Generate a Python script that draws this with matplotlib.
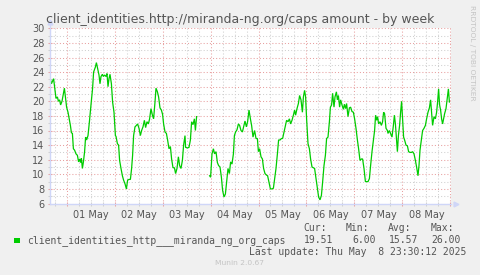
import numpy as np
import matplotlib
matplotlib.use("Agg")
import matplotlib.pyplot as plt
import matplotlib.dates as mdates
from matplotlib.patches import Rectangle
import datetime as dt

# ---------------- data ----------------
start_time = dt.datetime(2025, 4, 30, 15, 45)   # left edge of the graph
span_hours = 200.5

# hours since start_time
hours = [
    0.3, 0.7, 1.3, 1.8, 2.3, 3.0, 3.7, 4.2, 4.8, 5.3, 6.0, 6.7, 7.2, 7.7, 8.3, 9.0, 9.7, 10.2,
    10.7, 11.2, 11.7, 12.3, 13.0, 13.7, 14.3, 14.8, 15.3, 15.7, 16.2, 16.7, 17.3, 17.8, 18.3,
    19.0, 19.7, 20.3, 20.8, 21.3, 21.8, 22.7, 23.2, 23.8, 24.5, 25.0, 25.5, 26.2, 26.7, 27.3,
    28.0, 28.5, 29.0, 29.5, 30.0, 30.7, 31.3, 32.0, 32.7,
    33.0, 33.7, 34.3, 34.8, 35.5, 36.2, 36.8, 37.5, 38.2, 38.8, 39.5, 40.2, 40.8, 41.3, 41.8,
    42.5, 43.2, 43.8, 44.5, 45.2, 45.8, 46.5, 47.2, 47.8, 48.5, 49.2, 49.8, 50.5, 51.2, 51.8,
    52.5, 53.0, 53.7, 54.3, 55.0, 55.7, 56.3, 56.8, 57.5, 58.2, 58.8, 59.5, 60.2, 60.8, 61.5,
    62.2, 62.8, 63.5, 64.2, 64.8, 65.5, 66.2, 66.8, 67.5,
    67.8, 68.7, 69.5, 70.2, 70.8, 71.5, 72.2, 72.7, 73.3,
    76.0,
    79.8, 80.3, 81.0, 81.7, 82.3, 83.0, 83.7, 84.3, 85.0, 85.7, 86.3, 87.0, 87.7, 88.3, 89.0,
    89.7, 90.3, 91.0, 91.7, 92.2, 92.8, 93.5, 94.2, 94.8, 95.5, 96.2, 96.8, 97.5, 98.2, 98.8,
    99.5, 100.2, 100.8, 101.5,
    102.3, 103.0, 103.7, 104.2, 104.8, 105.5, 106.2, 106.8, 107.5, 108.2, 108.8, 109.5, 110.2,
    111.0, 111.7, 112.3, 113.0, 113.7, 114.3, 115.0, 115.7, 116.3, 117.0, 117.7, 118.3, 119.0,
    119.7, 120.3, 121.0, 121.7, 122.3, 122.8, 123.5, 124.2, 124.8, 125.5, 126.2, 126.7, 127.3,
    127.8, 128.3, 129.0, 129.7, 130.3, 131.0, 131.7, 132.3, 133.0, 133.7, 134.3, 135.0,
    135.7, 136.3, 137.0, 137.7, 138.3, 139.0, 139.7, 140.2, 140.8, 141.3, 142.0, 142.5, 143.2,
    143.7, 144.2, 144.8, 145.3, 146.0, 146.7, 147.2, 147.8, 148.3, 149.0, 149.7, 150.3, 151.0,
    151.7, 152.3, 153.0, 153.7, 154.3, 155.0, 155.7, 156.3, 157.0, 157.7, 158.3, 159.0, 159.7,
    160.3, 161.0, 161.7, 162.3, 162.8, 163.3, 163.8, 164.3, 165.0, 165.7, 166.3, 166.8, 167.3,
    168.0, 168.7,
    169.0, 169.7, 170.3, 171.0, 171.7, 172.2, 172.7, 173.2, 173.7, 174.2, 174.8, 175.3, 175.8,
    176.3, 176.8, 177.3, 178.0, 178.7, 179.3, 180.0, 180.7, 181.3, 182.0, 182.7, 183.3, 184.0,
    184.5, 185.0, 185.7, 186.3, 187.0, 187.7, 188.3, 189.0, 189.7, 190.3, 190.8, 191.3, 192.0,
    192.7, 193.3, 193.8, 194.3, 194.8, 195.3, 195.8, 196.3, 196.8, 197.3, 198.0, 198.7, 199.2,
    199.7,
]
values = [
    22.9, 22.4, 22.8, 23.1, 22.0, 20.4, 20.6, 20.0, 20.2, 19.5, 20.0, 21.1, 21.8, 20.6, 19.2, 18.5, 17.4, 16.7,
    15.7, 15.6, 13.5, 13.3, 12.8, 12.6, 11.7, 12.1, 11.6, 12.2, 10.8, 11.7, 13.1, 15.1, 14.7,
    15.3, 17.2, 19.0, 20.4, 21.8, 24.0, 24.7, 25.3, 24.5, 23.6, 22.4, 23.4, 23.7, 23.4, 23.6,
    23.4, 23.8, 22.0, 23.1, 23.7, 22.4, 19.9, 18.5, 15.3,
    15.2, 14.2, 14.0, 11.9, 10.8, 9.8, 9.2, 8.7, 8.0, 9.2, 9.3, 9.3, 10.8, 12.6, 15.3,
    16.5, 16.7, 16.9, 16.3, 15.3, 16.0, 16.5, 17.4, 16.4, 17.2, 16.9, 17.6, 19.0, 18.1, 17.6,
    19.9, 21.8, 21.3, 20.6, 19.1, 18.8, 18.2, 16.9, 15.8, 15.6, 14.7, 13.5, 13.8, 12.1, 10.9,
    10.9, 10.1, 10.8, 12.4, 11.2, 10.8, 11.9, 14.0, 15.3,
    13.7, 13.6, 13.7, 14.7, 17.2, 16.8, 17.6, 16.0, 17.9,
    np.nan,
    9.8, 9.6, 12.8, 13.5, 12.8, 13.1, 11.6, 11.2, 11.0, 9.6, 7.8, 6.9, 7.3, 8.9, 10.8,
    10.1, 11.7, 11.4, 12.8, 15.3, 15.8, 16.1, 16.9, 16.7, 16.0, 15.8, 16.5, 17.3, 16.5, 17.2,
    18.8, 17.6, 16.7, 15.1,
    16.0, 14.9, 14.9, 13.1, 13.5, 12.4, 12.1, 10.8, 10.1, 9.9, 9.8, 8.9, 8.0,
    8.0, 8.1, 9.4, 10.8, 12.8, 14.7, 14.7, 14.9, 14.9, 15.8, 16.7, 17.4, 17.2,
    17.6, 16.9, 17.4, 18.1, 18.8, 18.1, 19.0, 19.7, 20.8, 20.2, 18.5, 20.6, 21.5,
    20.6, 17.6, 14.2, 13.5, 12.1, 11.0, 10.9, 10.8, 9.4, 8.0, 6.9, 6.5,
    7.1, 8.9, 11.2, 12.6, 14.9, 15.1, 17.2, 19.2, 19.5, 21.1, 19.2, 20.6, 21.3,
    20.2, 20.8, 19.2, 20.2, 19.5, 18.9, 19.6, 19.0, 19.7, 17.9, 19.1, 19.2, 18.6,
    18.5, 17.6, 16.3, 14.7, 13.5, 11.9, 12.1, 12.1, 10.8, 9.0, 9.0, 9.0, 9.4,
    11.2, 13.1, 14.7, 16.0, 18.1, 17.4, 17.9, 16.9, 17.2, 16.7, 17.2, 18.5, 18.3,
    16.3, 16.0,
    15.6, 16.0, 15.6, 15.1, 16.7, 18.1, 16.9, 14.9, 13.1, 15.3, 16.7, 18.5, 20.0,
    17.6, 15.1, 14.7, 14.0, 13.9, 13.1, 13.0, 13.0, 13.1, 12.8, 11.9, 11.0, 9.8,
    11.2, 13.3, 14.7, 16.0, 16.3, 16.7, 17.6, 18.5, 19.1, 20.2, 18.5, 16.7, 17.9,
    17.6, 18.5, 19.9, 21.7, 19.5, 18.8, 17.6, 16.9, 17.6, 18.3, 19.0, 20.6, 21.7,
    19.9,
]

series_name = "client_identities_http___miranda_ng_org_caps"
title = "client_identities.http://miranda-ng.org/caps amount - by week"
stat_labels = ["Cur:", "Min:", "Avg:", "Max:"]
stat_values = ["19.51", "6.00", "15.57", "26.00"]
last_update = "Last update: Thu May  8 23:30:12 2025"
footer = "Munin 2.0.67"
watermark = "RRDTOOL / TOBI OETIKER"

# ---------------- styling ----------------
W, H = 481, 275
BACK = "#F0F0F0"
FONT = "#555555"
AXIS = "#CFD6F8"
LINE = "#00CC00"
MGRID = "#E8A0A0"
GRID = "#D0D0D0"

def fx(px):
    return px / W

def fy(py):
    return 1 - py / H

fig = plt.figure(figsize=(W / 100, H / 100), dpi=100, facecolor=BACK)
ax_left, ax_right, ax_top, ax_bot = 50, 451, 28.3, 203.5
ax = fig.add_axes([fx(ax_left), fy(ax_bot), fx(ax_right - ax_left), (ax_bot - ax_top) / H])
ax.set_facecolor("white")

times = [start_time + dt.timedelta(hours=h) for h in hours]
ax.plot(times, values, color=LINE, lw=0.9, solid_joinstyle="miter")

ax.set_xlim(start_time, start_time + dt.timedelta(hours=span_hours))
ax.set_ylim(6, 30)

# x axis: red at midnights, grey every 6h, labels at noon
ax.xaxis.set_major_locator(mdates.HourLocator(byhour=[0]))
ax.xaxis.set_minor_locator(mdates.HourLocator(byhour=[6, 12, 18]))
ax.xaxis.set_major_formatter(plt.NullFormatter())

def minor_fmt(x, pos=None):
    d = mdates.num2date(x)
    return d.strftime("%d %b") if d.hour == 12 else ""

ax.xaxis.set_minor_formatter(plt.FuncFormatter(minor_fmt))

ax.yaxis.set_major_locator(plt.MultipleLocator(2))
ax.yaxis.set_minor_locator(plt.MultipleLocator(1))
ax.yaxis.set_major_formatter(plt.FuncFormatter(lambda v, p: f"{int(v)}"))

dash = (0, (1, 2))
ax.grid(True, which="major", color=MGRID, lw=0.75, linestyle=dash)
ax.grid(True, which="minor", color=GRID, lw=0.75, linestyle=dash)
ax.set_axisbelow(True)

ax.tick_params(axis="both", which="both", labelsize=7, labelcolor=FONT, direction="inout")
ax.tick_params(axis="x", which="major", length=3, width=0.75, color=MGRID)
ax.tick_params(axis="x", which="minor", length=3, width=0.75, color=GRID, pad=3)
ax.tick_params(axis="y", which="major", length=3, width=0.75, color=MGRID, pad=2.5)
ax.tick_params(axis="y", which="minor", length=3, width=0.75, color=GRID)

for s in ["top", "right"]:
    ax.spines[s].set_visible(False)
for s in ["left", "bottom"]:
    ax.spines[s].set_color(AXIS)
    ax.spines[s].set_linewidth(1)
ax.spines["left"].set_bounds(6, 30.6)
ax.plot([0], [1.035], marker="^", color=AXIS, ms=3.5, transform=ax.transAxes, clip_on=False)
ax.plot([1.012], [0], marker=">", color=AXIS, ms=3.5, transform=ax.transAxes, clip_on=False)

# ---------------- texts ----------------
fig.text(fx(240), fy(23.5), title, ha="center", va="baseline", fontsize=9.0, color=FONT)

mono = "DejaVu Sans Mono"
stat_x = [303, 345.7, 388, 430.7]
val_x_right = [333, 376, 418, 461]
for lab, xp in zip(stat_labels, stat_x):
    fig.text(fx(xp), fy(230.7), lab, ha="left", va="baseline", fontsize=7, family=mono, color=FONT)
fig.patches.append(Rectangle((fx(14), fy(243)), 5.5 / W, 5.5 / H, transform=fig.transFigure,
                             facecolor=LINE, edgecolor="none"))
fig.text(fx(26.7), fy(243.3), series_name, ha="left", va="baseline", fontsize=7, family=mono, color=FONT)
for v, xp in zip(stat_values, val_x_right):
    fig.text(fx(xp), fy(243.3), v, ha="right", va="baseline", fontsize=7, family=mono, color=FONT)
fig.text(fx(466), fy(255), last_update, ha="right", va="baseline", fontsize=7, family=mono, color=FONT)
fig.text(fx(240), fy(263), footer, ha="center", va="center", fontsize=5.4, color="#C4C4C4")
fig.text(fx(472), fy(5), watermark, ha="center", va="top", rotation=270, fontsize=5.4, color="#C4C4C4")

fig.savefig("out.png", dpi=100, facecolor=BACK)
